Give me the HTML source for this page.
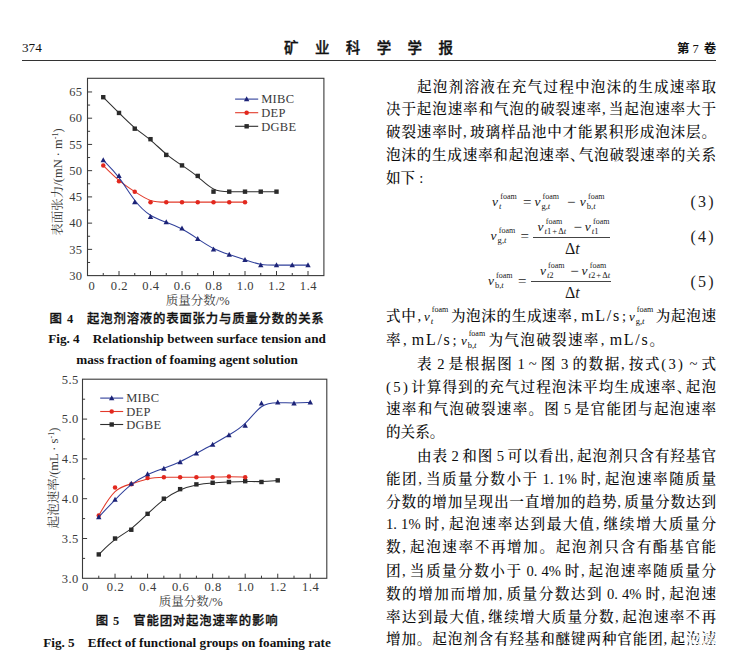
<!DOCTYPE html>
<html lang="zh"><head><meta charset="utf-8"><title>矿业科学学报 374</title>
<style>
html,body{margin:0;padding:0;background:#fff}
body{width:748px;height:661px;position:relative;overflow:hidden;font-family:"Liberation Serif", "Noto Serif CJK SC", serif;color:#111}
.a{position:absolute;white-space:nowrap;line-height:1.2}
.hd{position:absolute;white-space:nowrap;line-height:1}
.ttl{font-size:14.5px;font-weight:500;-webkit-text-stroke:0.35px #111;font-family:"Liberation Sans", "Noto Sans CJK SC", sans-serif;letter-spacing:16.4px}
.vol{font-size:12.5px;font-family:"Liberation Sans", "Noto Sans CJK SC", sans-serif;font-weight:bold}
.vol .sf{font-weight:normal;padding:0 5px 0 3px}
.sf{font-family:"Liberation Serif", "Noto Serif CJK SC", serif;-webkit-text-stroke:0}
.rule{position:absolute;left:22px;top:59.6px;width:694px;height:1.3px;background:#333}
svg{position:absolute;left:0;top:0}
.cap{position:absolute;left:22px;width:330px;text-align:center;white-space:nowrap;line-height:1;color:#111}
.capc{font-family:"Liberation Sans", "Noto Sans CJK SC", sans-serif;font-weight:500;-webkit-text-stroke:0.3px #111;font-size:12.4px;letter-spacing:.8px}
.cape{font-family:"Liberation Serif", "Noto Serif CJK SC", serif;font-weight:bold;font-size:13.2px}
.ln{position:absolute;height:22px;line-height:22px;font-size:14.6px;white-space:nowrap;color:#0c0c0c;font-family:"Liberation Serif", "Noto Serif CJK SC", serif;font-weight:500;word-spacing:-1.2px}
.ln.j{white-space:normal;text-align:justify;text-align-last:justify;text-justify:inter-character}
.pc{font-family:"Liberation Serif", "Noto Serif CJK SC", serif;padding-right:2.5px}
.pn{letter-spacing:2.4px}
.wd .pc{padding:0 3px 0 1px}
.un{font-size:16px;letter-spacing:1.7px;padding-left:1px}
.hc{display:inline-block;width:8px;overflow:visible;white-space:nowrap;text-align:left;text-align-last:auto}
.vf{display:inline-block;position:relative;white-space:nowrap;text-align:left;text-align-last:auto;letter-spacing:0}
.vf>i{font-size:13px}
.sb i{font-size:9px}
.ss{display:inline-block;position:relative;width:18px;height:15px;vertical-align:-3px}
.sp{position:absolute;left:2px;top:-3px;font-size:8px;line-height:1}
.sb{position:absolute;left:1px;top:7.5px;font-size:8.5px;line-height:1}
.m{font-family:"Liberation Serif", "Noto Serif CJK SC", serif;color:#1a1a1a}
.n{font-family:"Liberation Serif", "Noto Serif CJK SC", serif;color:#222;letter-spacing:2.2px}
.smg{position:absolute;left:686px;top:633px;width:30px;height:14px;background:repeating-linear-gradient(115deg,rgba(255,255,255,.85) 0 2px,rgba(255,255,255,.25) 2px 4px);filter:blur(.4px)}
.bar{position:absolute;height:1.2px;background:#444}
</style></head><body>
<div class="hd" style="left:22px;top:40.6px;font-size:13.2px">374</div>
<div class="hd ttl" style="left:284px;top:41.3px">矿业科学学报</div>
<div class="hd vol" style="left:677px;top:43px">第<span class="sf">7</span>卷</div>
<div class="rule"></div>
<svg width="748" height="661" viewBox="0 0 748 661">
<rect x="87.50" y="78.30" width="236.40" height="197.30" fill="none" stroke="#3a3a3a" stroke-width="1.1"/>
<path d="M103.25 275.60v-2.60 M119.00 275.60v-4.60 M134.75 275.60v-2.60 M150.50 275.60v-4.60 M166.25 275.60v-2.60 M182.00 275.60v-4.60 M197.75 275.60v-2.60 M213.50 275.60v-4.60 M229.25 275.60v-2.60 M245.00 275.60v-4.60 M260.75 275.60v-2.60 M276.50 275.60v-4.60 M292.25 275.60v-2.60 M308.00 275.60v-4.60 M87.50 249.37h4.60 M87.50 223.13h4.60 M87.50 196.90h4.60 M87.50 170.66h4.60 M87.50 144.43h4.60 M87.50 118.19h4.60 M87.50 91.96h4.60 M87.50 262.48h2.60 M87.50 236.25h2.60 M87.50 210.01h2.60 M87.50 183.78h2.60 M87.50 157.54h2.60 M87.50 131.31h2.60 M87.50 105.07h2.60" stroke="#3a3a3a" stroke-width="1" fill="none"/>
<g font-family='&quot;Liberation Serif&quot;, &quot;Noto Serif CJK SC&quot;, serif' font-size="12.5" fill="#3a3a3a">
<text x="91.90" y="289.50" text-anchor="middle" letter-spacing="0.6">0</text>
<text x="119.50" y="289.50" text-anchor="middle" letter-spacing="0.6">0.2</text>
<text x="151.00" y="289.50" text-anchor="middle" letter-spacing="0.6">0.4</text>
<text x="182.50" y="289.50" text-anchor="middle" letter-spacing="0.6">0.6</text>
<text x="214.00" y="289.50" text-anchor="middle" letter-spacing="0.6">0.8</text>
<text x="245.50" y="289.50" text-anchor="middle" letter-spacing="0.6">1.0</text>
<text x="277.00" y="289.50" text-anchor="middle" letter-spacing="0.6">1.2</text>
<text x="308.50" y="289.50" text-anchor="middle" letter-spacing="0.6">1.4</text>
<text x="82.50" y="279.80" text-anchor="end" letter-spacing="0.4">30</text>
<text x="82.50" y="253.56" text-anchor="end" letter-spacing="0.4">35</text>
<text x="82.50" y="227.33" text-anchor="end" letter-spacing="0.4">40</text>
<text x="82.50" y="201.10" text-anchor="end" letter-spacing="0.4">45</text>
<text x="82.50" y="174.86" text-anchor="end" letter-spacing="0.4">50</text>
<text x="82.50" y="148.62" text-anchor="end" letter-spacing="0.4">55</text>
<text x="82.50" y="122.39" text-anchor="end" letter-spacing="0.4">60</text>
<text x="82.50" y="96.16" text-anchor="end" letter-spacing="0.4">65</text>
<path d="M235.10 99.10H258.20" stroke="#2f3f9a" stroke-width="1.1"/>
<polygon points="246.65,96.30 243.95,101.30 249.35,101.30" fill="#1c2377"/>
<text x="261.20" y="103.40" letter-spacing="0.3">MIBC</text>
<path d="M235.10 112.70H258.20" stroke="#e23a2a" stroke-width="1.1"/>
<circle cx="246.65" cy="112.70" r="2.25" fill="#e2281e"/>
<text x="261.20" y="117.00" letter-spacing="0.3">DEP</text>
<path d="M235.10 126.30H258.20" stroke="#2e2e2e" stroke-width="1.1"/>
<rect x="244.45" y="124.10" width="4.4" height="4.4" fill="#2a2a2a"/>
<text x="261.20" y="130.60" letter-spacing="0.3">DGBE</text>
<text x="197.70" y="304.60" text-anchor="middle">质量分数/%</text>
<text transform="translate(61.50 182.00) rotate(-90)" text-anchor="middle">表面张力/(mN · m<tspan dy="-4" font-size="8">-1</tspan><tspan dy="4">)</tspan></text>
</g>
<path d="M103.25 97.20 C103.25 97.20 103.25 97.20 105.88 99.83 C108.50 102.45 113.75 107.70 119.00 112.94 C124.25 118.19 129.50 123.44 134.75 127.81 C140.00 132.18 145.25 135.68 150.50 140.05 C155.75 144.43 161.00 149.67 166.25 154.04 C171.50 158.42 176.75 161.92 182.00 165.41 C187.25 168.91 192.50 172.41 197.75 176.78 C203.00 181.15 208.25 186.40 213.50 189.02 C218.75 191.65 224.00 191.65 229.25 191.65 C234.50 191.65 239.75 191.65 245.00 191.65 C250.25 191.65 255.50 191.65 260.75 191.65 C266.00 191.65 271.25 191.65 273.88 191.65 C276.50 191.65 276.50 191.65 276.50 191.65" fill="none" stroke="#2e2e2e" stroke-width="1.05"/>
<rect x="101.05" y="95.00" width="4.4" height="4.4" fill="#2a2a2a"/>
<rect x="116.80" y="110.74" width="4.4" height="4.4" fill="#2a2a2a"/>
<rect x="132.55" y="126.48" width="4.4" height="4.4" fill="#2a2a2a"/>
<rect x="148.30" y="136.98" width="4.4" height="4.4" fill="#2a2a2a"/>
<rect x="164.05" y="152.72" width="4.4" height="4.4" fill="#2a2a2a"/>
<rect x="179.80" y="163.21" width="4.4" height="4.4" fill="#2a2a2a"/>
<rect x="195.55" y="173.71" width="4.4" height="4.4" fill="#2a2a2a"/>
<rect x="211.30" y="189.45" width="4.4" height="4.4" fill="#2a2a2a"/>
<rect x="227.05" y="189.45" width="4.4" height="4.4" fill="#2a2a2a"/>
<rect x="242.80" y="189.45" width="4.4" height="4.4" fill="#2a2a2a"/>
<rect x="258.55" y="189.45" width="4.4" height="4.4" fill="#2a2a2a"/>
<rect x="274.30" y="189.45" width="4.4" height="4.4" fill="#2a2a2a"/>
<path d="M103.25 165.41 C103.25 165.41 103.25 165.41 105.88 168.04 C108.50 170.66 113.75 175.91 119.00 180.28 C124.25 184.65 129.50 188.15 134.75 191.65 C140.00 195.15 145.25 198.64 150.50 200.39 C155.75 202.14 161.00 202.14 166.25 202.14 C171.50 202.14 176.75 202.14 182.00 202.14 C187.25 202.14 192.50 202.14 197.75 202.14 C203.00 202.14 208.25 202.14 213.50 202.14 C218.75 202.14 224.00 202.14 229.25 202.14 C234.50 202.14 239.75 202.14 242.38 202.14 C245.00 202.14 245.00 202.14 245.00 202.14" fill="none" stroke="#e23a2a" stroke-width="1.05"/>
<circle cx="103.25" cy="165.41" r="2.25" fill="#e2281e"/>
<circle cx="119.00" cy="181.15" r="2.25" fill="#e2281e"/>
<circle cx="134.75" cy="191.65" r="2.25" fill="#e2281e"/>
<circle cx="150.50" cy="202.14" r="2.25" fill="#e2281e"/>
<circle cx="166.25" cy="202.14" r="2.25" fill="#e2281e"/>
<circle cx="182.00" cy="202.14" r="2.25" fill="#e2281e"/>
<circle cx="197.75" cy="202.14" r="2.25" fill="#e2281e"/>
<circle cx="213.50" cy="202.14" r="2.25" fill="#e2281e"/>
<circle cx="229.25" cy="202.14" r="2.25" fill="#e2281e"/>
<circle cx="245.00" cy="202.14" r="2.25" fill="#e2281e"/>
<path d="M103.25 160.17 C103.25 160.17 103.25 160.17 105.88 162.79 C108.50 165.41 113.75 170.66 119.00 177.66 C124.25 184.65 129.50 193.40 134.75 200.22 C140.00 207.04 145.25 211.94 150.50 215.26 C155.75 218.58 161.00 220.33 166.25 222.26 C171.50 224.18 176.75 226.28 182.00 229.08 C187.25 231.88 192.50 235.37 197.75 238.87 C203.00 242.37 208.25 245.87 213.50 248.49 C218.75 251.11 224.00 252.86 229.25 254.61 C234.50 256.36 239.75 258.11 245.00 259.86 C250.25 261.61 255.50 263.36 260.75 264.23 C266.00 265.11 271.25 265.11 276.50 265.11 C281.75 265.11 287.00 265.11 292.25 265.11 C297.50 265.11 302.75 265.11 305.38 265.11 C308.00 265.11 308.00 265.11 308.00 265.11" fill="none" stroke="#2f3f9a" stroke-width="1.05"/>
<polygon points="103.25,157.37 100.55,162.37 105.95,162.37" fill="#1c2377"/>
<polygon points="119.00,173.11 116.30,178.11 121.70,178.11" fill="#1c2377"/>
<polygon points="134.75,199.34 132.05,204.34 137.45,204.34" fill="#1c2377"/>
<polygon points="150.50,214.03 147.80,219.03 153.20,219.03" fill="#1c2377"/>
<polygon points="166.25,219.28 163.55,224.28 168.95,224.28" fill="#1c2377"/>
<polygon points="182.00,225.58 179.30,230.58 184.70,230.58" fill="#1c2377"/>
<polygon points="197.75,236.07 195.05,241.07 200.45,241.07" fill="#1c2377"/>
<polygon points="213.50,246.56 210.80,251.56 216.20,251.56" fill="#1c2377"/>
<polygon points="229.25,251.81 226.55,256.81 231.95,256.81" fill="#1c2377"/>
<polygon points="245.00,257.06 242.30,262.06 247.70,262.06" fill="#1c2377"/>
<polygon points="260.75,262.31 258.05,267.31 263.45,267.31" fill="#1c2377"/>
<polygon points="276.50,262.31 273.80,267.31 279.20,267.31" fill="#1c2377"/>
<polygon points="292.25,262.31 289.55,267.31 294.95,267.31" fill="#1c2377"/>
<polygon points="308.00,262.31 305.30,267.31 310.70,267.31" fill="#1c2377"/>
<rect x="82.50" y="379.20" width="244.30" height="199.10" fill="none" stroke="#3a3a3a" stroke-width="1.1"/>
<path d="M98.77 578.30v-2.60 M115.04 578.30v-4.60 M131.31 578.30v-2.60 M147.58 578.30v-4.60 M163.85 578.30v-2.60 M180.12 578.30v-4.60 M196.39 578.30v-2.60 M212.66 578.30v-4.60 M228.93 578.30v-2.60 M245.20 578.30v-4.60 M261.47 578.30v-2.60 M277.74 578.30v-4.60 M294.01 578.30v-2.60 M310.28 578.30v-4.60 M82.50 538.50h4.60 M82.50 498.70h4.60 M82.50 458.90h4.60 M82.50 419.10h4.60 M82.50 558.40h2.60 M82.50 518.60h2.60 M82.50 478.80h2.60 M82.50 439.00h2.60 M82.50 399.20h2.60" stroke="#3a3a3a" stroke-width="1" fill="none"/>
<g font-family='&quot;Liberation Serif&quot;, &quot;Noto Serif CJK SC&quot;, serif' font-size="12.5" fill="#3a3a3a">
<text x="85.50" y="590.60" text-anchor="middle" letter-spacing="0.6">0</text>
<text x="115.54" y="590.60" text-anchor="middle" letter-spacing="0.6">0.2</text>
<text x="148.08" y="590.60" text-anchor="middle" letter-spacing="0.6">0.4</text>
<text x="180.62" y="590.60" text-anchor="middle" letter-spacing="0.6">0.6</text>
<text x="213.16" y="590.60" text-anchor="middle" letter-spacing="0.6">0.8</text>
<text x="245.70" y="590.60" text-anchor="middle" letter-spacing="0.6">1.0</text>
<text x="278.24" y="590.60" text-anchor="middle" letter-spacing="0.6">1.2</text>
<text x="310.78" y="590.60" text-anchor="middle" letter-spacing="0.6">1.4</text>
<text x="78.60" y="582.50" text-anchor="end" letter-spacing="0.4">3.0</text>
<text x="78.60" y="542.70" text-anchor="end" letter-spacing="0.4">3.5</text>
<text x="78.60" y="502.90" text-anchor="end" letter-spacing="0.4">4.0</text>
<text x="78.60" y="463.10" text-anchor="end" letter-spacing="0.4">4.5</text>
<text x="78.60" y="423.30" text-anchor="end" letter-spacing="0.4">5.0</text>
<text x="78.60" y="383.50" text-anchor="end" letter-spacing="0.4">5.5</text>
<path d="M100.20 398.10H123.20" stroke="#2f3f9a" stroke-width="1.1"/>
<polygon points="111.70,395.30 109.00,400.30 114.40,400.30" fill="#1c2377"/>
<text x="126.20" y="402.40" letter-spacing="0.3">MIBC</text>
<path d="M100.20 411.50H123.20" stroke="#e23a2a" stroke-width="1.1"/>
<circle cx="111.70" cy="411.50" r="2.25" fill="#e2281e"/>
<text x="126.20" y="415.80" letter-spacing="0.3">DEP</text>
<path d="M100.20 424.50H123.20" stroke="#2e2e2e" stroke-width="1.1"/>
<rect x="109.50" y="422.30" width="4.4" height="4.4" fill="#2a2a2a"/>
<text x="126.20" y="428.80" letter-spacing="0.3">DGBE</text>
<text x="190.80" y="605.50" text-anchor="middle">质量分数/%</text>
<text transform="translate(57.50 478.00) rotate(-90)" text-anchor="middle">起泡速率/(mL · s<tspan dy="-4" font-size="8">-1</tspan><tspan dy="4">)</tspan></text>
</g>
<path d="M98.77 554.42 C98.77 554.42 98.77 554.42 101.48 551.77 C104.19 549.11 109.62 543.81 115.04 539.69 C120.46 535.58 125.89 532.66 131.31 528.55 C136.73 524.44 142.16 519.13 147.58 513.96 C153.00 508.78 158.43 503.74 163.85 499.63 C169.27 495.52 174.70 492.33 180.12 489.94 C185.54 487.56 190.97 485.96 196.39 484.90 C201.81 483.84 207.24 483.31 212.66 482.91 C218.08 482.51 223.51 482.25 228.93 481.98 C234.35 481.72 239.78 481.45 245.20 481.45 C250.62 481.45 256.05 481.72 261.47 481.59 C266.89 481.45 272.32 480.92 275.03 480.66 C277.74 480.39 277.74 480.39 277.74 480.39" fill="none" stroke="#2e2e2e" stroke-width="1.05"/>
<rect x="96.57" y="552.22" width="4.4" height="4.4" fill="#2a2a2a"/>
<rect x="112.84" y="536.30" width="4.4" height="4.4" fill="#2a2a2a"/>
<rect x="129.11" y="527.54" width="4.4" height="4.4" fill="#2a2a2a"/>
<rect x="145.38" y="511.62" width="4.4" height="4.4" fill="#2a2a2a"/>
<rect x="161.65" y="496.50" width="4.4" height="4.4" fill="#2a2a2a"/>
<rect x="177.92" y="486.95" width="4.4" height="4.4" fill="#2a2a2a"/>
<rect x="194.19" y="482.17" width="4.4" height="4.4" fill="#2a2a2a"/>
<rect x="210.46" y="480.58" width="4.4" height="4.4" fill="#2a2a2a"/>
<rect x="226.73" y="479.78" width="4.4" height="4.4" fill="#2a2a2a"/>
<rect x="243.00" y="478.99" width="4.4" height="4.4" fill="#2a2a2a"/>
<rect x="259.27" y="479.78" width="4.4" height="4.4" fill="#2a2a2a"/>
<rect x="275.54" y="478.19" width="4.4" height="4.4" fill="#2a2a2a"/>
<path d="M98.77 515.42 C98.77 515.42 98.77 515.42 101.48 510.77 C104.19 506.13 109.62 496.84 115.04 491.67 C120.46 486.49 125.89 485.43 131.31 483.84 C136.73 482.25 142.16 480.13 147.58 478.93 C153.00 477.74 158.43 477.47 163.85 477.34 C169.27 477.21 174.70 477.21 180.12 477.21 C185.54 477.21 190.97 477.21 196.39 477.21 C201.81 477.21 207.24 477.21 212.66 477.08 C218.08 476.94 223.51 476.68 228.93 476.68 C234.35 476.68 239.78 476.94 242.49 477.08 C245.20 477.21 245.20 477.21 245.20 477.21" fill="none" stroke="#e23a2a" stroke-width="1.05"/>
<circle cx="98.77" cy="515.42" r="2.25" fill="#e2281e"/>
<circle cx="115.04" cy="487.56" r="2.25" fill="#e2281e"/>
<circle cx="131.31" cy="484.37" r="2.25" fill="#e2281e"/>
<circle cx="147.58" cy="478.00" r="2.25" fill="#e2281e"/>
<circle cx="163.85" cy="477.21" r="2.25" fill="#e2281e"/>
<circle cx="180.12" cy="477.21" r="2.25" fill="#e2281e"/>
<circle cx="196.39" cy="477.21" r="2.25" fill="#e2281e"/>
<circle cx="212.66" cy="477.21" r="2.25" fill="#e2281e"/>
<circle cx="228.93" cy="476.41" r="2.25" fill="#e2281e"/>
<circle cx="245.20" cy="477.21" r="2.25" fill="#e2281e"/>
<path d="M98.77 517.01 C98.77 517.01 98.77 517.01 101.48 514.09 C104.19 511.17 109.62 505.33 115.04 499.76 C120.46 494.19 125.89 488.88 131.31 484.64 C136.73 480.39 142.16 477.21 147.58 474.69 C153.00 472.17 158.43 470.31 163.85 468.32 C169.27 466.33 174.70 464.21 180.12 461.69 C185.54 459.17 190.97 456.25 196.39 453.33 C201.81 450.41 207.24 447.49 212.66 444.44 C218.08 441.39 223.51 438.20 228.93 435.02 C234.35 431.84 239.78 428.65 245.20 423.35 C250.62 418.04 256.05 410.61 261.47 406.76 C266.89 402.91 272.32 402.65 277.74 402.65 C283.16 402.65 288.59 402.91 294.01 402.91 C299.43 402.91 304.86 402.65 307.57 402.52 C310.28 402.38 310.28 402.38 310.28 402.38" fill="none" stroke="#2f3f9a" stroke-width="1.05"/>
<polygon points="98.77,514.21 96.07,519.21 101.47,519.21" fill="#1c2377"/>
<polygon points="115.04,496.70 112.34,501.70 117.74,501.70" fill="#1c2377"/>
<polygon points="131.31,480.78 128.61,485.78 134.01,485.78" fill="#1c2377"/>
<polygon points="147.58,471.22 144.88,476.22 150.28,476.22" fill="#1c2377"/>
<polygon points="163.85,465.65 161.15,470.65 166.55,470.65" fill="#1c2377"/>
<polygon points="180.12,459.28 177.42,464.28 182.82,464.28" fill="#1c2377"/>
<polygon points="196.39,450.53 193.69,455.53 199.09,455.53" fill="#1c2377"/>
<polygon points="212.66,441.77 209.96,446.77 215.36,446.77" fill="#1c2377"/>
<polygon points="228.93,432.22 226.23,437.22 231.63,437.22" fill="#1c2377"/>
<polygon points="245.20,422.67 242.50,427.67 247.90,427.67" fill="#1c2377"/>
<polygon points="261.47,400.38 258.77,405.38 264.17,405.38" fill="#1c2377"/>
<polygon points="277.74,399.58 275.04,404.58 280.44,404.58" fill="#1c2377"/>
<polygon points="294.01,400.38 291.31,405.38 296.71,405.38" fill="#1c2377"/>
<polygon points="310.28,399.58 307.58,404.58 312.98,404.58" fill="#1c2377"/>
</svg>
<div class="cap capc" style="top:312.6px">图 <b class="sf">4</b>　起泡剂溶液的表面张力与质量分数的关系</div>
<div class="cap cape" style="top:332px">Fig. 4　Relationship between surface tension and</div>
<div class="cap cape" style="top:353.4px">mass fraction of foaming agent solution</div>
<div class="cap capc" style="top:614.9px">图 <b class="sf">5</b>　官能团对起泡速率的影响</div>
<div class="cap cape" style="top:636.4px">Fig. 5　Effect of functional groups on foaming rate</div>
<div class="ln j" style="top:75.5px;left:417px;width:299px">起泡剂溶液在充气过程中泡沫的生成速率取</div>
<div class="ln j" style="top:98.3px;left:386px;width:330px">决于起泡速率和气泡的破裂速率<span class="pc">,</span>当起泡速率大于</div>
<div class="ln j" style="top:121.1px;left:386px;width:330px">破裂速率时<span class="pc">,</span>玻璃样品池中才能累积形成泡沫层。</div>
<div class="ln j" style="top:144.0px;left:386px;width:330px">泡沫的生成速率和起泡速率<span class="hc">、</span>气泡破裂速率的关系</div>
<div class="ln" style="top:167.0px;left:386px">如下<span class="pc" style="padding-left:4px">:</span></div>
<div class="ln j wd" style="top:305.0px;left:386px;width:330px">式中<span class="pc">,</span><span class="vf"><i>v</i><span class="ss"><span class="sp">foam</span><span class="sb"><i>t</i></span></span></span> 为泡沫的生成速率<span class="pc">,</span><span class="un">mL/s</span><span class="pc">;</span><span class="vf"><i>v</i><span class="ss"><span class="sp">foam</span><span class="sb">g,<i>t</i></span></span></span> 为起泡速</div>
<div class="ln wd" style="top:329.0px;left:386px;letter-spacing:1.3px">率<span class="pc">,</span><span class="un">mL/s</span><span class="pc">;</span><span class="vf"><i>v</i><span class="ss"><span class="sp">foam</span><span class="sb">b,<i>t</i></span></span></span> 为气泡破裂速率<span class="pc">,</span><span class="un">mL/s</span>。</div>
<div class="ln j" style="top:352.5px;left:417px;width:299px">表 2 是根据图 1 ~ 图 3 的数据<span class="pc">,</span>按式<span class="pn">(3)</span> ~ 式</div>
<div class="ln j" style="top:375.5px;left:386px;width:330px"><span class="pn">(5)</span>计算得到的充气过程泡沫平均生成速率<span class="hc">、</span>起泡</div>
<div class="ln j" style="top:398.3px;left:386px;width:330px">速率和气泡破裂速率。图 5 是官能团与起泡速率</div>
<div class="ln" style="top:421.3px;left:386px">的关系。</div>
<div class="ln j" style="top:444.5px;left:417px;width:299px">由表 2 和图 5 可以看出<span class="pc">,</span>起泡剂只含有羟基官</div>
<div class="ln j" style="top:467.5px;left:386px;width:330px">能团<span class="pc">,</span>当质量分数小于 1. 1% 时<span class="pc">,</span>起泡速率随质量</div>
<div class="ln j" style="top:490.5px;left:386px;width:330px">分数的增加呈现出一直增加的趋势<span class="pc">,</span>质量分数达到</div>
<div class="ln j" style="top:513.3px;left:386px;width:330px">1. 1% 时<span class="pc">,</span>起泡速率达到最大值<span class="pc">,</span>继续增大质量分</div>
<div class="ln j" style="top:536.3px;left:386px;width:330px">数<span class="pc">,</span>起泡速率不再增加。起泡剂只含有酯基官能</div>
<div class="ln j" style="top:559.5px;left:386px;width:330px">团<span class="pc">,</span>当质量分数小于 0. 4% 时<span class="pc">,</span>起泡速率随质量分</div>
<div class="ln j" style="top:582.5px;left:386px;width:330px">数的增加而增加<span class="pc">,</span>质量分数达到 0. 4% 时<span class="pc">,</span>起泡速</div>
<div class="ln j" style="top:605.5px;left:386px;width:330px">率达到最大值<span class="pc">,</span>继续增大质量分数<span class="pc">,</span>起泡速率不再</div>
<div class="ln j" style="top:628.3px;left:386px;width:330px">增加。起泡剂含有羟基和醚键两种官能团<span class="pc">,</span>起泡速</div>
<span class="a m" style="left:492.1px;top:193.6px;font-size:13.5px;"><i>v</i></span><span class="a m" style="left:500.3px;top:191.7px;font-size:8.0px;">foam</span><span class="a m" style="left:499.1px;top:200.6px;font-size:8.6px;"><i>t</i></span>
<span class="a m" style="left:523.0px;top:192.5px;font-size:15.0px;">=</span>
<span class="a m" style="left:534.4px;top:193.6px;font-size:13.5px;"><i>v</i></span><span class="a m" style="left:542.6px;top:191.7px;font-size:8.0px;">foam</span><span class="a m" style="left:541.4px;top:200.6px;font-size:8.6px;">g,<i>t</i></span>
<span class="a m" style="left:567.0px;top:192.5px;font-size:15.0px;">−</span>
<span class="a m" style="left:579.8px;top:193.6px;font-size:13.5px;"><i>v</i></span><span class="a m" style="left:588.0px;top:191.7px;font-size:8.0px;">foam</span><span class="a m" style="left:586.8px;top:200.6px;font-size:8.6px;">b,<i>t</i></span>
<span class="a n" style="left:690.5px;top:192.0px;font-size:16.0px;">(3)</span>
<span class="a m" style="left:490.6px;top:228.2px;font-size:13.5px;"><i>v</i></span><span class="a m" style="left:498.8px;top:226.3px;font-size:8.0px;">foam</span><span class="a m" style="left:497.6px;top:235.2px;font-size:8.6px;">g,<i>t</i></span>
<span class="a m" style="left:520.5px;top:227.0px;font-size:15.0px;">=</span>
<span class="bar" style="left:533px;top:236.6px;width:77px"></span>
<span class="a m" style="left:537.6px;top:218.6px;font-size:13.5px;"><i>v</i></span><span class="a m" style="left:545.8px;top:216.7px;font-size:8.0px;">foam</span><span class="a m" style="left:544.6px;top:225.6px;font-size:8.6px;"><i>t</i>1<span style="padding:0 1px">+</span>Δ<i>t</i></span>
<span class="a m" style="left:573.5px;top:217.5px;font-size:15.0px;">−</span>
<span class="a m" style="left:584.8px;top:218.6px;font-size:13.5px;"><i>v</i></span><span class="a m" style="left:593.0px;top:216.7px;font-size:8.0px;">foam</span><span class="a m" style="left:591.8px;top:225.6px;font-size:8.6px;"><i>t</i>1</span>
<span class="a m" style="left:565.0px;top:238.5px;font-size:16.0px;">Δ<i>t</i></span>
<span class="a n" style="left:690.5px;top:226.6px;font-size:16.0px;">(4)</span>
<span class="a m" style="left:487.9px;top:273.1px;font-size:13.5px;"><i>v</i></span><span class="a m" style="left:496.1px;top:271.2px;font-size:8.0px;">foam</span><span class="a m" style="left:494.9px;top:280.1px;font-size:8.6px;">b,<i>t</i></span>
<span class="a m" style="left:518.0px;top:271.8px;font-size:15.0px;">=</span>
<span class="bar" style="left:531.3px;top:281px;width:80.2px"></span>
<span class="a m" style="left:539.9px;top:262.9px;font-size:13.5px;"><i>v</i></span><span class="a m" style="left:548.1px;top:261.0px;font-size:8.0px;">foam</span><span class="a m" style="left:546.9px;top:269.9px;font-size:8.6px;"><i>t</i>2</span>
<span class="a m" style="left:570.3px;top:261.8px;font-size:15.0px;">−</span>
<span class="a m" style="left:581.6px;top:262.9px;font-size:13.5px;"><i>v</i></span><span class="a m" style="left:589.8px;top:261.0px;font-size:8.0px;">foam</span><span class="a m" style="left:588.6px;top:269.9px;font-size:8.6px;"><i>t</i>2<span style="padding:0 1px">+</span>Δ<i>t</i></span>
<span class="a m" style="left:565.0px;top:283.3px;font-size:16.0px;">Δ<i>t</i></span>
<span class="a n" style="left:690.5px;top:271.5px;font-size:16.0px;">(5)</span>
<div class="smg"></div>
</body></html>
